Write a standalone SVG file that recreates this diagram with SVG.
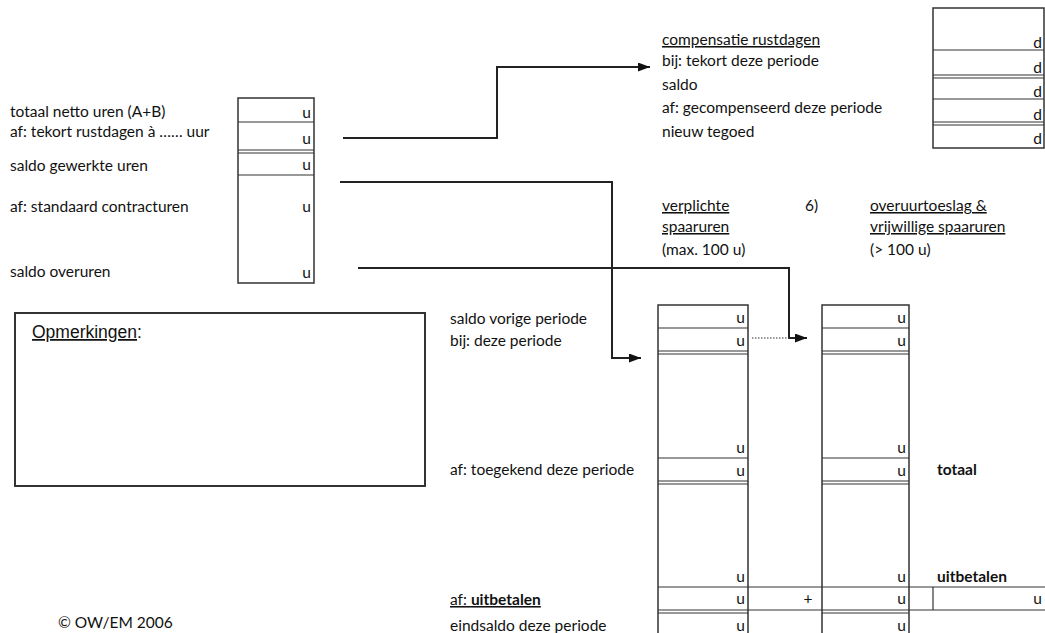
<svg xmlns="http://www.w3.org/2000/svg" width="1045" height="633" viewBox="0 0 1045 633">
<style>
text{font-family:Lato,"Open Sans",sans-serif;font-size:15.5px;fill:#111}
.u{text-anchor:end}
.b{font-weight:bold}
.ul{text-decoration:underline}
.box{fill:none;stroke:#333;stroke-width:1.5}
.ln{stroke:#333;stroke-width:1.2;fill:none}
.conn{stroke:#222;stroke-width:2;fill:none}
.dot{stroke:#333;stroke-width:1.2;stroke-dasharray:1.5 1.5;fill:none}
.ar{font-family:"Liberation Sans",Arial,sans-serif;font-size:17.5px}
</style>
<defs>
<marker id="ah" markerUnits="userSpaceOnUse" markerWidth="13" markerHeight="10" refX="12" refY="4.5" orient="auto">
<path d="M0,0 L12,4.5 L0,9 z" fill="#111"/>
</marker>
</defs>
<rect width="1045" height="633" fill="#fff"/>

<g id="left-table">
<text x="10" y="117">totaal netto uren (A+B)</text>
<text x="10" y="137">af: tekort rustdagen à …… uur</text>
<text x="10" y="171">saldo gewerkte uren</text>
<text x="10" y="212">af: standaard contracturen</text>
<text x="10" y="277">saldo overuren</text>
<rect class="box" x="238" y="98" width="76" height="185"/>
<line class="ln" x1="238" y1="122" x2="314" y2="122"/>
<line class="ln" x1="238" y1="150" x2="314" y2="150"/>
<line class="ln" x1="238" y1="153" x2="314" y2="153"/>
<line class="ln" x1="238" y1="175" x2="314" y2="175"/>
<text class="u" x="311" y="118">u</text>
<text class="u" x="311" y="144">u</text>
<text class="u" x="311" y="170">u</text>
<text class="u" x="311" y="212">u</text>
<text class="u" x="311" y="278">u</text>
</g>

<g id="comp-table">
<text class="ul" x="662" y="45">compensatie rustdagen</text>
<text x="662" y="66">bij: tekort deze periode</text>
<text x="662" y="90">saldo</text>
<text x="662" y="113">af: gecompenseerd deze periode</text>
<text x="662" y="137">nieuw tegoed</text>
<rect class="box" x="933" y="8" width="111" height="140"/>
<line class="ln" x1="933" y1="50" x2="1044" y2="50"/>
<line class="ln" x1="933" y1="75" x2="1044" y2="75"/>
<line class="ln" x1="933" y1="78" x2="1044" y2="78"/>
<line class="ln" x1="933" y1="99" x2="1044" y2="99"/>
<line class="ln" x1="933" y1="122" x2="1044" y2="122"/>
<line class="ln" x1="933" y1="125" x2="1044" y2="125"/>
<text class="u" x="1042" y="48">d</text>
<text class="u" x="1042" y="73">d</text>
<text class="u" x="1042" y="97">d</text>
<text class="u" x="1042" y="120">d</text>
<text class="u" x="1042" y="144">d</text>
</g>

<g id="col-headers">
<text class="ul" x="662" y="211">verplichte</text>
<text class="ul" x="662" y="232">spaaruren</text>
<text x="662" y="255">(max. 100 u)</text>
<text x="805" y="211">6)</text>
<text class="ul" x="870" y="211">overuurtoeslag &amp;</text>
<text class="ul" x="870" y="232">vrijwillige spaaruren</text>
<text x="870" y="255">(&gt; 100 u)</text>
</g>

<g id="row-labels">
<text x="450" y="324">saldo vorige periode</text>
<text x="450" y="346">bij: deze periode</text>
<text x="450" y="475">af: toegekend deze periode</text>
<text x="450" y="605" class="ul">af: <tspan class="b">uitbetalen</tspan></text>
<text x="450" y="631">eindsaldo deze periode</text>
<text class="b" x="937" y="475">totaal</text>
<text class="b" x="937" y="582">uitbetalen</text>
</g>

<g id="col-verplicht">
<path class="box" d="M658,640 V305 H748 V640"/>
<line class="ln" x1="658" y1="328" x2="748" y2="328"/>
<line class="ln" x1="658" y1="351" x2="748" y2="351"/>
<line class="ln" x1="658" y1="354" x2="748" y2="354"/>
<line class="ln" x1="658" y1="458" x2="748" y2="458"/>
<line class="ln" x1="658" y1="481" x2="748" y2="481"/>
<line class="ln" x1="658" y1="484" x2="748" y2="484"/>
<line class="ln" x1="658" y1="610" x2="748" y2="610"/>
<line class="ln" x1="658" y1="613" x2="748" y2="613"/>
<text class="u" x="745" y="323">u</text>
<text class="u" x="745" y="346">u</text>
<text class="u" x="745" y="453">u</text>
<text class="u" x="745" y="476">u</text>
<text class="u" x="745" y="582">u</text>
<text class="u" x="745" y="604">u</text>
<text class="u" x="745" y="631">u</text>
</g>

<g id="col-overuur">
<path class="box" d="M822,640 V305 H909 V640"/>
<line class="ln" x1="822" y1="328" x2="909" y2="328"/>
<line class="ln" x1="822" y1="351" x2="909" y2="351"/>
<line class="ln" x1="822" y1="354" x2="909" y2="354"/>
<line class="ln" x1="822" y1="458" x2="909" y2="458"/>
<line class="ln" x1="822" y1="481" x2="909" y2="481"/>
<line class="ln" x1="822" y1="484" x2="909" y2="484"/>
<line class="ln" x1="822" y1="610" x2="909" y2="610"/>
<line class="ln" x1="822" y1="613" x2="909" y2="613"/>
<text class="u" x="906" y="323">u</text>
<text class="u" x="906" y="346">u</text>
<text class="u" x="906" y="453">u</text>
<text class="u" x="906" y="476">u</text>
<text class="u" x="906" y="582">u</text>
<text class="u" x="906" y="604">u</text>
<text class="u" x="906" y="631">u</text>
</g>

<g id="uitbetalen-row">
<line class="ln" x1="658" y1="587" x2="1045" y2="587"/>
<line class="ln" x1="748" y1="610" x2="822" y2="610"/>
<line class="ln" x1="909" y1="610" x2="1045" y2="610"/>
<line class="ln" x1="933" y1="587" x2="933" y2="610"/>
<text x="808" y="604" text-anchor="middle">+</text>
<text class="u" x="1042" y="604">u</text>
</g>

<g id="opmerkingen">
<rect x="15" y="313" width="410" height="173" fill="none" stroke="#333" stroke-width="2"/>
<text class="ar" x="32" y="338"><tspan text-decoration="underline">Opmerkingen</tspan>:</text>
</g>

<g id="footer">
<text x="58" y="628">© OW/EM 2006</text>
</g>

<g id="connectors">
<polyline class="conn" points="343,138 497,138 497,67 650,67" marker-end="url(#ah)"/>
<polyline class="conn" points="340,182 612,182 612,358 641,358" marker-end="url(#ah)"/>
<polyline class="conn" points="358,268 789,268 789,338 807,338" marker-end="url(#ah)"/>
<line class="dot" x1="752" y1="338" x2="789" y2="338"/>
</g>
</svg>
